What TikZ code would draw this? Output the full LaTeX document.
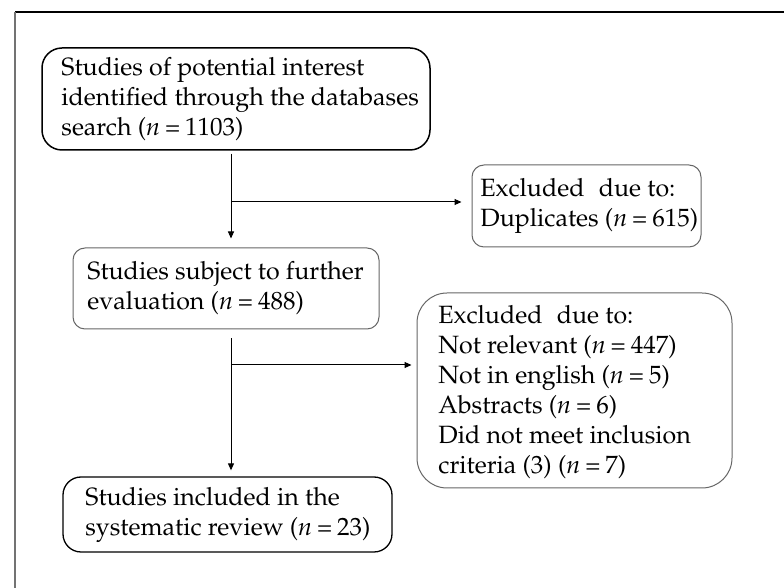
\documentclass[tikz,border=0pt]{standalone}
\usepackage[T1]{fontenc}
\usepackage{mathpazo}
\usetikzlibrary{arrows.meta}
\newcommand{\nEq}[1]{\textit{n}\hspace{0.2em}=\hspace{0.2em}#1}
\begin{document}
\begin{tikzpicture}[x=0.5pt,y=-0.5pt,
  boxbase/.style={rounded corners=#1, inner sep=0pt},
  boxdark/.style={draw=black, line width=0.75pt},
  boxgray/.style={draw=black!60, line width=0.5pt},
  txt/.style={anchor=west, align=left, inner sep=0pt, font=\fontsize{12.5}{15}\selectfont},
  arr/.style={draw=black, line width=0.5pt, -{Triangle[length=3.5pt,width=3pt]}}]
\useasboundingbox (0,0) rectangle (784,588);
% frame
\draw[black, line width=0.6pt] (15,12) -- (784,12);
\draw[black!55, line width=0.8pt] (15,12) -- (15,588);
% boxes
\node[boxbase=10pt, boxdark, minimum width=194pt, minimum height=51pt] (b1) at (236,99) {};
\node[boxbase=6pt, boxgray, minimum width=114.5pt, minimum height=41pt] (b2) at (586.5,206) {};
\node[boxbase=6pt, boxgray, minimum width=153pt, minimum height=40.5pt] (b3) at (226,288.5) {};
\node[boxbase=15pt, boxgray, minimum width=157.5pt, minimum height=97.5pt] (b4) at (574.5,390.5) {};
\node[boxbase=9pt, boxdark, line width=0.65pt, minimum width=164.5pt, minimum height=37.5pt] (b5) at (227.5,514.5) {};
% texts
\node[txt] (t1) at (61,99) {Studies of potential interest\\identified through the databases\\search (\nEq{1103})};
\node[txt] (t2) at (480,206) {Excluded\hspace{0.32em} due to:\\Duplicates (\nEq{615})};
\node[txt] (t3) at (87,288.5) {Studies subject to further\\evaluation (\nEq{488})};
\node[txt] (t4) at (438,392) {Excluded\hspace{0.32em} due to:\\Not relevant (\nEq{447})\\Not in english (\nEq{5})\\Abstracts (\nEq{6})\\Did not meet inclusion\\criteria (3) (\nEq{7})};
\node[txt] (t5) at (85,514.5) {Studies included in the\\systematic review (\nEq{23})};
% connectors
\coordinate (v) at (231,0);
\coordinate (j1) at (231,202);
\coordinate (j2) at (231,365);
\draw[arr, shorten <=1.5pt, shorten >=4.5pt] (b1.south -| v) -- (b3.north -| v);
\draw[arr, shorten >=5pt] (j1) -- (j1 -| b2.west);
\draw[arr, shorten <=4.5pt, shorten >=3pt] (b3.south -| v) -- (b5.north -| v);
\draw[arr, shorten >=2.5pt] (j2) -- (j2 -| b4.west);
\end{tikzpicture}
\end{document}
